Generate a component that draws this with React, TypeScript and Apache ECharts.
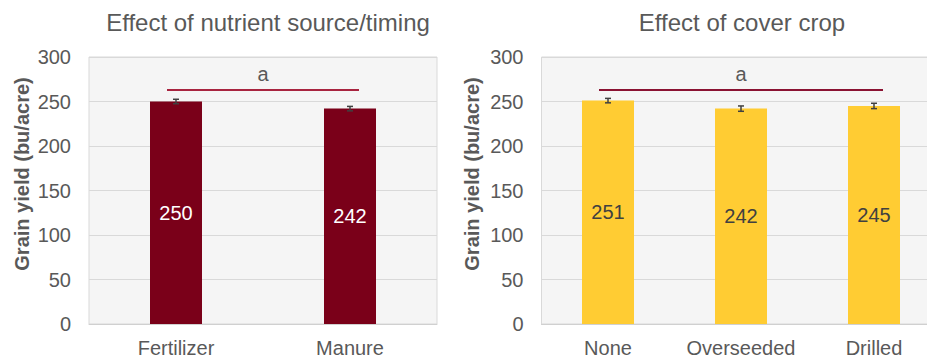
import React, { useEffect, useRef } from "react";
import * as echarts from "echarts";

// Nutrient source/timing panel
const sourceCategories = ["Fertilizer", "Manure"];
const sourceYield = [250, 242];
const sourceError = [2.5, 2.5];

// Cover crop panel
const coverCategories = ["None", "Overseeded", "Drilled"];
const coverYield = [251, 242, 245];
const coverError = [2.5, 3, 3];

// Mean separation bars: [first category, last category, height, letter]
const sourceGroups: [number, number, number, string][] = [[0, 1, 263, "a"]];
const coverGroups: [number, number, number, string][] = [[0, 2, 263, "a"]];

const yTicks = { min: 0, max: 300, interval: 50 };

const FONT = "'Liberation Sans', Arial, sans-serif";
const TEXT = "#595959";
const GRID_LINE = "#d9d9d9";

const errorData = (vals: number[], errs: number[]) =>
  vals.map((v, i) => [i, v - errs[i], v + errs[i]]);

const renderError = (_params: any, api: any) => {
  const x = api.value(0);
  const lo = api.coord([x, api.value(1)]);
  const hi = api.coord([x, api.value(2)]);
  const cap = 3;
  const style = { stroke: "#404040", lineWidth: 1.5 };
  return {
    type: "group",
    children: [
      { type: "line", shape: { x1: lo[0], y1: lo[1], x2: hi[0], y2: hi[1] }, style },
      { type: "line", shape: { x1: lo[0] - cap, y1: lo[1], x2: lo[0] + cap, y2: lo[1] }, style },
      { type: "line", shape: { x1: hi[0] - cap, y1: hi[1], x2: hi[0] + cap, y2: hi[1] }, style },
    ],
  };
};

const makeGroupRenderer = (color: string, groups: [number, number, number, string][]) =>
  (params: any, api: any) => {
    const y = api.value(2);
    const a = api.coord([api.value(0), y]);
    const b = api.coord([api.value(1), y]);
    const ext = 9;
    const letter = groups[params.dataIndex][3];
    return {
      type: "group",
      children: [
        {
          type: "line",
          shape: { x1: a[0] - ext, y1: a[1], x2: b[0] + ext, y2: b[1] },
          style: { stroke: color, lineWidth: 2 },
        },
        {
          type: "text",
          x: (a[0] + b[0]) / 2,
          y: a[1] - 6,
          style: {
            text: letter,
            fill: TEXT,
            fontSize: 20,
            fontFamily: FONT,
            align: "center",
            verticalAlign: "bottom",
          },
        },
      ],
    };
  };

export default function App() {
  const ref = useRef<HTMLDivElement>(null);

  useEffect(() => {
    if (!ref.current) return;
    const chart = echarts.init(ref.current, undefined, { renderer: "svg" });

    const yAxisBase = {
      type: "value",
      ...yTicks,
      axisLine: { show: false },
      axisTick: { show: false },
      axisLabel: { color: TEXT, fontSize: 20, fontFamily: FONT, margin: 18 },
      splitLine: { lineStyle: { color: GRID_LINE, width: 1 } },
    };
    const xAxisBase = {
      type: "category",
      axisLine: { show: true, lineStyle: { color: "#d0d0d0" } },
      axisTick: { show: false },
      axisLabel: { color: TEXT, fontSize: 20, fontFamily: FONT, margin: 14, interval: 0 },
    };

    const yTitle = (x: number) => ({
      type: "text",
      x,
      y: 174,
      rotation: Math.PI / 2,
      style: {
        text: "Grain yield (bu/acre)",
        fill: TEXT,
        fontSize: 20,
        fontWeight: "bold",
        fontFamily: FONT,
        align: "center",
        verticalAlign: "middle",
      },
    });

    chart.setOption({
      animation: false,
      backgroundColor: "#ffffff",
      textStyle: { fontFamily: FONT },
      title: [
        {
          text: "Effect of nutrient source/timing",
          left: 263,
          top: 5,
          textAlign: "center",
          textStyle: { color: TEXT, fontSize: 24, fontWeight: "normal", fontFamily: FONT },
        },
        {
          text: "Effect of cover crop",
          left: 737,
          top: 5,
          textAlign: "center",
          textStyle: { color: TEXT, fontSize: 24, fontWeight: "normal", fontFamily: FONT },
        },
      ],
      grid: [
        {
          left: 89, top: 57, width: 348, height: 267,
          outerBoundsMode: "none",
          show: true, backgroundColor: "#f5f5f5", borderColor: GRID_LINE, borderWidth: 1,
        },
        {
          left: 541.5, top: 57, width: 399, height: 267,
          outerBoundsMode: "none",
          show: true, backgroundColor: "#f5f5f5", borderColor: GRID_LINE, borderWidth: 1,
        },
      ],
      xAxis: [
        { ...xAxisBase, gridIndex: 0, data: sourceCategories },
        { ...xAxisBase, gridIndex: 1, data: coverCategories },
      ],
      yAxis: [
        { ...yAxisBase, gridIndex: 0 },
        { ...yAxisBase, gridIndex: 1 },
      ],
      graphic: [yTitle(22), yTitle(472)],
      series: [
        {
          type: "bar",
          xAxisIndex: 0,
          yAxisIndex: 0,
          data: sourceYield,
          barWidth: 52,
          itemStyle: { color: "#7a0019" },
          label: {
            show: true,
            position: "inside",
            color: "#ffffff",
            fontSize: 20,
            fontFamily: FONT,
          },
        },
        {
          type: "bar",
          xAxisIndex: 1,
          yAxisIndex: 1,
          data: coverYield,
          barWidth: 52,
          itemStyle: { color: "#ffcc33" },
          label: {
            show: true,
            position: "inside",
            color: "#404040",
            fontSize: 20,
            fontFamily: FONT,
          },
        },
        {
          type: "custom",
          xAxisIndex: 0,
          yAxisIndex: 0,
          data: errorData(sourceYield, sourceError),
          encode: { x: 0, y: [1, 2] },
          renderItem: renderError,
          z: 5,
        },
        {
          type: "custom",
          xAxisIndex: 1,
          yAxisIndex: 1,
          data: errorData(coverYield, coverError),
          encode: { x: 0, y: [1, 2] },
          renderItem: renderError,
          z: 5,
        },
        {
          type: "custom",
          xAxisIndex: 0,
          yAxisIndex: 0,
          data: sourceGroups.map((g) => [g[0], g[1], g[2]]),
          encode: { x: [0, 1], y: 2 },
          renderItem: makeGroupRenderer("#a8243f", sourceGroups),
          z: 5,
        },
        {
          type: "custom",
          xAxisIndex: 1,
          yAxisIndex: 1,
          data: coverGroups.map((g) => [g[0], g[1], g[2]]),
          encode: { x: [0, 1], y: 2 },
          renderItem: makeGroupRenderer("#8a1232", coverGroups),
          z: 5,
        },
      ],
    });

    return () => chart.dispose();
  }, []);

  return (
    <div
      ref={ref}
      style={{ position: "fixed", left: 0, top: 0, width: 927, height: 358 }}
    />
  );
}
